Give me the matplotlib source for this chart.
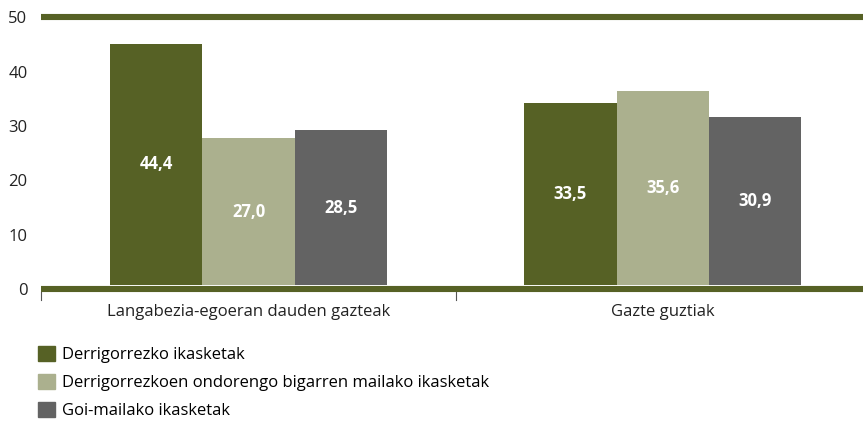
import matplotlib.pyplot as plt
import matplotlib.transforms as mtransforms
import numpy as np

plt.rcParams['font.family'] = ['Open Sans', 'DejaVu Sans']

categories = ['Langabezia-egoeran dauden gazteak', 'Gazte guztiak']
series_names = ['Derrigorrezko ikasketak',
                'Derrigorrezkoen ondorengo bigarren mailako ikasketak',
                'Goi-mailako ikasketak']
values = [
    [44.4, 33.5],   # Derrigorrezko ikasketak
    [27.0, 35.6],   # Derrigorrezkoen ondorengo ...
    [28.5, 30.9],   # Goi-mailako ikasketak
]
colors = ['#566125', '#abb08e', '#636363']
olive = '#566125'

fig = plt.figure(figsize=(8.63, 4.21), dpi=100)
ax = fig.add_axes([0.048, 0.323, 0.96, 0.646])

x = np.arange(len(categories))
width = 0.223
for i, (name, vals) in enumerate(zip(series_names, values)):
    pos = x + (i - 1) * width
    bars = ax.bar(pos, vals, width=width, color=colors[i], label=name, zorder=2)
    for b, v in zip(bars, vals):
        ax.text(b.get_x() + b.get_width() / 2, v / 2, f'{v:.1f}'.replace('.', ','),
                ha='center', va='center', color='white', fontsize=12,
                fontweight='bold', zorder=3)

ax.set_xlim(-0.5, 1.5)
ax.set_ylim(0, 50)
ax.set_yticks([0, 10, 20, 30, 40, 50])
ax.tick_params(axis='y', length=0, labelsize=12, pad=10, labelcolor='#222222')

# thick olive bands sitting just under 0 and 50
shift = mtransforms.ScaledTranslation(0, -3 / 72, fig.dpi_scale_trans)
band_tr = ax.get_yaxis_transform() + shift
for yv, z in [(50, 1), (0, 4)]:
    ax.plot([0, 1], [yv, yv], color=olive, lw=4.4, zorder=z,
            transform=band_tr, clip_on=False, solid_capstyle='butt')
for s in ax.spines.values():
    s.set_visible(False)

# nudge y labels down so they line up with the bands
for lbl in ax.get_yticklabels():
    lbl.set_transform(lbl.get_transform() + shift)

ax.set_xticks(x)
ax.set_xticklabels(categories, fontsize=12, color='#222222')
ax.tick_params(axis='x', length=0, pad=14)
for xb in [-0.5, 0.5]:
    ax.plot([xb, xb], [-1.3, -2.8], color='#555555', lw=0.8, clip_on=False)

handles = [plt.Rectangle((0, 0), 1, 1, color=c) for c in colors]
fig.legend(handles, series_names, loc='upper left', bbox_to_anchor=(0.044, 0.178),
           frameon=False, fontsize=12, handlelength=1.0, handleheight=1.0,
           handletextpad=0.45, labelspacing=0.64, borderaxespad=0, borderpad=0)

fig.savefig('out.png', dpi=100)
